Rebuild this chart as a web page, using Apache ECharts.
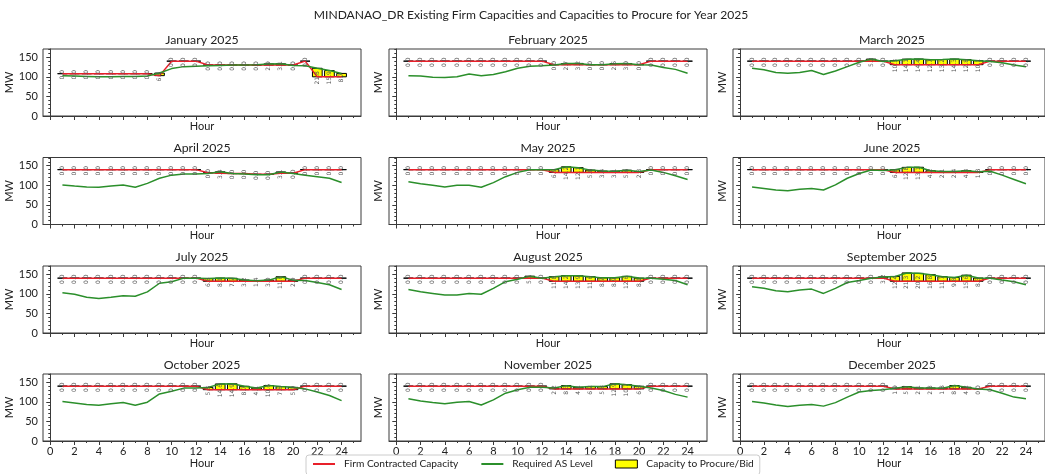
<!DOCTYPE html>
<html>
<head>
<meta charset="utf-8">
<script src="https://cdn.jsdelivr.net/npm/echarts@6/dist/echarts.min.js"></script>
<style>
  html, body { margin: 0; padding: 0; background: #ffffff; }
  #chart { width: 1045px; height: 474px; }
</style>
</head>
<body>
<div id="chart"></div>
<script>
// Hours of the day and axis tick values
const HOURS = [1,2,3,4,5,6,7,8,9,10,11,12,13,14,15,16,17,18,19,20,21,22,23,24];
const X_TICKS = [0,2,4,6,8,10,12,14,16,18,20,22,24];
const X_MINOR = [1,3,5,7,9,11,13,15,17,19,21,23,25];
const Y_TICKS = [0,50,100,150];
const Y_MINOR = [10,20,30,40,60,70,80,90,110,120,130,140,160,170];

const MONTHS = ['January 2025','February 2025','March 2025','April 2025','May 2025','June 2025',
                'July 2025','August 2025','September 2025','October 2025','November 2025','December 2025'];

// Firm contracted capacity (MW) per hour
const firm_jan = [108,108,108,108,108,108,108,108,103,140,140,140,130,130,130,130,130,130,130,130,140,100,100,100];
const firm_feb = [140,140,140,140,140,140,140,140,140,140,140,140,131,131,131,131,131,131,131,131,140,140,140,140];
const firm_mar = [140,140,140,140,140,140,140,140,140,140,140,140,131,131,131,131,131,131,131,131,140,140,140,140];
const firm_apr = [140,140,140,140,140,140,140,140,140,140,140,140,132,131,130,130,128,128,131,131,140,140,140,140];
const firm_may = [140,140,140,140,140,140,140,140,140,140,140,140,133,133,133,133,133,133,133,133,140,140,140,140];
const firm_jun = [140,140,140,140,140,140,140,140,140,140,140,140,133,133,133,133,133,133,133,133,140,140,140,140];
const firm_jul = [140,140,140,140,140,140,140,140,140,140,140,140,132,132,132,132,132,132,132,132,140,140,140,140];
const firm_aug = [140,140,140,140,140,140,140,140,140,140,140,140,132,132,132,132,132,132,132,132,140,140,140,140];
const firm_sep = [140,140,140,140,140,140,140,140,140,140,140,140,132,132,132,132,132,132,132,132,140,140,140,140];
const firm_oct = [140,140,140,140,140,140,140,140,140,140,140,140,131,131,131,131,131,131,131,131,140,140,140,140];
const firm_nov = [140,140,140,140,140,140,140,140,140,140,140,140,133,133,133,133,133,133,133,133,140,140,140,140];
const firm_dec = [140,140,140,140,140,140,140,140,140,140,140,140,133,133,133,133,133,133,133,133,140,140,140,140];

// Required ancillary service level (MW) per hour
const req_jan = [103,102,101,100,100,101,101,102,109.6,121,126,127,128,129,130,130,131,132.9,133.1,129,128,121.8,115.9,108.7];
const req_feb = [103,102,99,98,100,107,103,106,113,122,127,128,130,133.7,134.2,131,131,133.6,134,131,130,124,119,109];
const req_mar = [122,118,111,109,111,116,106,115,126,137,145.2,139,141.3,145.1,145.4,143.7,144.2,145.3,143.8,141.1,139,136,130,126];
const req_apr = [101,98,96,95,98,101,95,105,118,126,129,129,130,134.4,130,129,127,127,134.1,130,126,122,118,107];
const req_may = [109,104,100,96,100,100,95,107,122,133,140,140,139.9,147.2,145.1,138.8,136.4,136.1,138.6,135.3,139,133,124.5,115];
const req_jun = [96,92,88,86,90,92,88,101,118,130,139,138,139.6,145.8,146.1,137.2,135.1,135.4,137.3,134.8,136,126,115,104];
const req_jul = [103,99,91,88,91,95,94,105,127,131,140,140,138.8,140.1,139.7,135.2,133.4,135,143.6,134.9,134,129,123,111];
const req_aug = [111,105,101,97,97,101,99,114,131,137,145.1,140,143.8,146.2,145.9,143.6,140.7,140.9,144.6,140.1,140,137,134,123];
const req_sep = [118,114,108,105,110,112,101,114,129,134,140,143.2,144.4,153.3,152.2,148.8,143.7,141.8,147.6,140.3,140,135,131,123];
const req_oct = [101,97,93,91,95,98,91,99,120,127,135,135,136.8,145.6,145.9,139.7,135.1,141.6,138.8,136.9,133,125,116,103];
const req_nov = [108,102,98,95,99,101,92,105,122,131,137,137,135.2,141.3,137.1,139.2,138.8,145.9,143.7,139.8,135,129,119,112];
const req_dec = [101,97,92,88,91,93,89,98,112,125,129,131,134.9,138.7,135.1,135.3,134.8,141.6,137.2,133,131,122,112,108];

// Capacity to procure / bid (MW) per hour
const proc_jan = [0,0,0,0,0,0,0,0,6.6,0,0,0,0,0,0,0,0,2.9,3.1,0,0,21.8,15.9,8.7];
const proc_feb = [0,0,0,0,0,0,0,0,0,0,0,0,0,2.7,3.2,0,0,2.6,3.0,0,0,0,0,0];
const proc_mar = [0,0,0,0,0,0,0,0,0,0,5.2,0,10.3,14.1,14.4,12.7,13.2,14.3,12.8,10.1,0,0,0,0];
const proc_apr = [0,0,0,0,0,0,0,0,0,0,0,0,0,3.4,0,0,0,0,3.1,0,0,0,0,0];
const proc_may = [0,0,0,0,0,0,0,0,0,0,0,0,6.9,14.2,12.1,5.8,3.4,3.1,5.6,2.3,0,0,0,0];
const proc_jun = [0,0,0,0,0,0,0,0,0,0,0,0,6.6,12.8,13.1,4.2,2.1,2.4,4.3,1.8,0,0,0,0];
const proc_jul = [0,0,0,0,0,0,0,0,0,0,0,0,6.8,8.1,7.7,3.2,1.4,3.0,11.6,2.9,0,0,0,0];
const proc_aug = [0,0,0,0,0,0,0,0,0,0,5.1,0,11.8,14.2,13.9,11.6,8.7,8.9,12.6,8.1,0,0,0,0];
const proc_sep = [0,0,0,0,0,0,0,0,0,0,0,3.2,12.4,21.3,20.2,16.8,11.7,9.8,15.6,8.3,0,0,0,0];
const proc_oct = [0,0,0,0,0,0,0,0,0,0,0,0,5.8,14.6,14.9,8.7,4.1,10.6,7.8,5.9,0,0,0,0];
const proc_nov = [0,0,0,0,0,0,0,0,0,0,0,0,2.2,8.3,4.1,6.2,5.8,12.9,10.7,6.8,0,0,0,0];
const proc_dec = [0,0,0,0,0,0,0,0,0,0,0,0,1.9,5.7,2.1,2.3,1.8,8.6,4.2,0,0,0,0,0];

const FIRM = [firm_jan, firm_feb, firm_mar, firm_apr, firm_may, firm_jun, firm_jul, firm_aug, firm_sep, firm_oct, firm_nov, firm_dec];
const REQ  = [req_jan, req_feb, req_mar, req_apr, req_may, req_jun, req_jul, req_aug, req_sep, req_oct, req_nov, req_dec];
const PROC = [proc_jan, proc_feb, proc_mar, proc_apr, proc_may, proc_jun, proc_jul, proc_aug, proc_sep, proc_oct, proc_nov, proc_dec];

// Layout of the 4 x 3 panel grid
const COL_LEFT = [43, 389, 733];
const ROW_TOP = [49, 157.5, 266, 374];
const GRID_W = 318;
const GRID_H = 67;
const X_MIN = -0.6, X_MAX = 25.6, Y_MAX = 171;

const RED = '#e8202a';
const GREEN = '#2b8f2b';
const YELLOW = '#ffff00';
const FONT = 'Lato';
const INK = '#222222';
const SPINE = '#3a3a3a';

const BAR_W = 0.8;

function renderBar(params, api) {
  const h = api.value(0), base = api.value(1), amt = api.value(2);
  const p0 = api.coord([h - BAR_W / 2, base + amt]);
  const p1 = api.coord([h + BAR_W / 2, base]);
  return {
    type: 'rect',
    shape: { x: p0[0], y: p0[1], width: p1[0] - p0[0], height: p1[1] - p0[1] },
    style: { fill: YELLOW, stroke: '#000000', lineWidth: 1 }
  };
}

function renderLabel(params, api) {
  const h = api.value(0), base = api.value(1), amt = api.value(2);
  const p = api.coord([h, base]);
  return {
    type: 'text',
    x: p[0], y: p[1] + 1,
    rotation: Math.PI / 2,
    style: {
      text: amt.toFixed(1),
      fill: '#555555',
      font: '6px "DejaVu Sans"',
      align: 'center',
      verticalAlign: 'middle'
    }
  };
}

const grids = [], xAxes = [], yAxes = [], series = [], graphics = [];

MONTHS.forEach((month, k) => {
  const r = Math.floor(k / 3), c = k % 3;
  const bottomRow = r === 3, leftCol = c === 0;

  grids.push({
    left: COL_LEFT[c], top: ROW_TOP[r], width: GRID_W, height: GRID_H,
    show: true, borderColor: SPINE, borderWidth: 1, backgroundColor: 'transparent'
  });

  graphics.push({
    type: 'text',
    x: COL_LEFT[c] + GRID_W / 2, y: ROW_TOP[r] - 9,
    style: { text: month, font: '12.3px ' + FONT, fill: INK, align: 'center', verticalAlign: 'middle' }
  });

  xAxes.push({
    gridIndex: k, type: 'value', min: X_MIN, max: X_MAX, position: 'bottom',
    axisLine: { show: true, lineStyle: { color: SPINE, width: 1 } },
    axisTick: { show: true, customValues: X_TICKS, length: 4, lineStyle: { color: SPINE } },
    axisLabel: { show: bottomRow, customValues: X_TICKS, fontSize: 11, fontFamily: FONT, color: INK, margin: 5 },
    splitLine: { show: false },
    name: 'Hour', nameLocation: 'middle', nameGap: bottomRow ? 16 : 5,
    nameTextStyle: { fontSize: 11, fontFamily: FONT, color: INK }
  });

  yAxes.push({
    gridIndex: k, type: 'value', min: 0, max: Y_MAX, position: 'left',
    axisLine: { show: true, lineStyle: { color: SPINE, width: 1 } },
    axisTick: { show: true, customValues: Y_TICKS, length: 4, lineStyle: { color: SPINE } },
    axisLabel: { show: leftCol, customValues: Y_TICKS, fontSize: 11, fontFamily: FONT, color: INK, margin: 5 },
    splitLine: { show: false },
    name: 'MW', nameLocation: 'middle', nameGap: leftCol ? 25 : 5, nameRotate: 90,
    nameTextStyle: { fontSize: 11, fontFamily: FONT, color: INK }
  });

  const barData = HOURS.map((h, i) => [h, FIRM[k][i], PROC[k][i]]);

  series.push({
    type: 'custom', name: 'Capacity to Procure/Bid',
    xAxisIndex: k, yAxisIndex: k,
    renderItem: renderBar, data: barData, encode: { x: 0, y: 1 },
    itemStyle: { color: YELLOW, borderColor: '#000000', borderWidth: 1 },
    z: 2, silent: true
  });
  series.push({
    type: 'line', name: 'Firm Contracted Capacity',
    xAxisIndex: k, yAxisIndex: k,
    data: HOURS.map((h, i) => [h, FIRM[k][i]]),
    symbol: 'none', lineStyle: { color: RED, width: 1.5 }, itemStyle: { color: RED },
    z: 3, silent: true
  });
  series.push({
    type: 'line', name: 'Required AS Level',
    xAxisIndex: k, yAxisIndex: k,
    data: HOURS.map((h, i) => [h, REQ[k][i]]),
    symbol: 'none', lineStyle: { color: GREEN, width: 1.5 }, itemStyle: { color: GREEN },
    z: 3, silent: true
  });
  series.push({
    type: 'custom', name: 'bid labels',
    xAxisIndex: k, yAxisIndex: k,
    renderItem: renderLabel, data: barData, encode: { x: 0, y: 1 },
    z: 4, silent: true
  });
});

// Minor tick axes layered on each panel
MONTHS.forEach((month, k) => {
  xAxes.push({
    gridIndex: k, type: 'value', min: X_MIN, max: X_MAX, position: 'bottom', offset: 0,
    axisLine: { show: false },
    axisTick: { show: true, customValues: X_MINOR, length: 2, lineStyle: { color: SPINE } },
    axisLabel: { show: false }, splitLine: { show: false }
  });
  yAxes.push({
    gridIndex: k, type: 'value', min: 0, max: Y_MAX, position: 'left', offset: 0,
    axisLine: { show: false },
    axisTick: { show: true, customValues: Y_MINOR, length: 2, lineStyle: { color: SPINE } },
    axisLabel: { show: false }, splitLine: { show: false }
  });
});

graphics.push({
  type: 'text', x: 531, y: 15,
  style: {
    text: 'MINDANAO_DR Existing Firm Capacities and Capacities to Procure for Year 2025',
    font: '12.1px ' + FONT, fill: INK, align: 'center', verticalAlign: 'middle'
  }
});

// Line entries in the legend show a plain stroke (no marker)
const HIDDEN_MARK = { color: 'rgba(0,0,0,0)', borderColor: 'rgba(0,0,0,0)', borderWidth: 0 };

const chart = echarts.init(document.getElementById('chart'), null, { renderer: 'canvas' });
chart.setOption({
  animation: false,
  backgroundColor: '#ffffff',
  grid: grids,
  xAxis: xAxes,
  yAxis: yAxes,
  series: series,
  graphic: graphics,
  legend: {
    left: 306, top: 455,
    data: [
      { name: 'Firm Contracted Capacity', itemStyle: HIDDEN_MARK },
      { name: 'Required AS Level', itemStyle: HIDDEN_MARK },
      { name: 'Capacity to Procure/Bid', icon: 'rect',
        itemStyle: { color: YELLOW, borderColor: '#000000', borderWidth: 1 } }
    ],
    itemWidth: 22, itemHeight: 8, itemGap: 22,
    padding: [4, 6, 6, 6],
    backgroundColor: '#ffffff', borderColor: '#cccccc', borderWidth: 1, borderRadius: 3,
    textStyle: { fontSize: 10.2, fontFamily: FONT, color: INK, padding: [0, 0, 0, 4] },
    selectedMode: false
  }
});
</script>
</body>
</html>
